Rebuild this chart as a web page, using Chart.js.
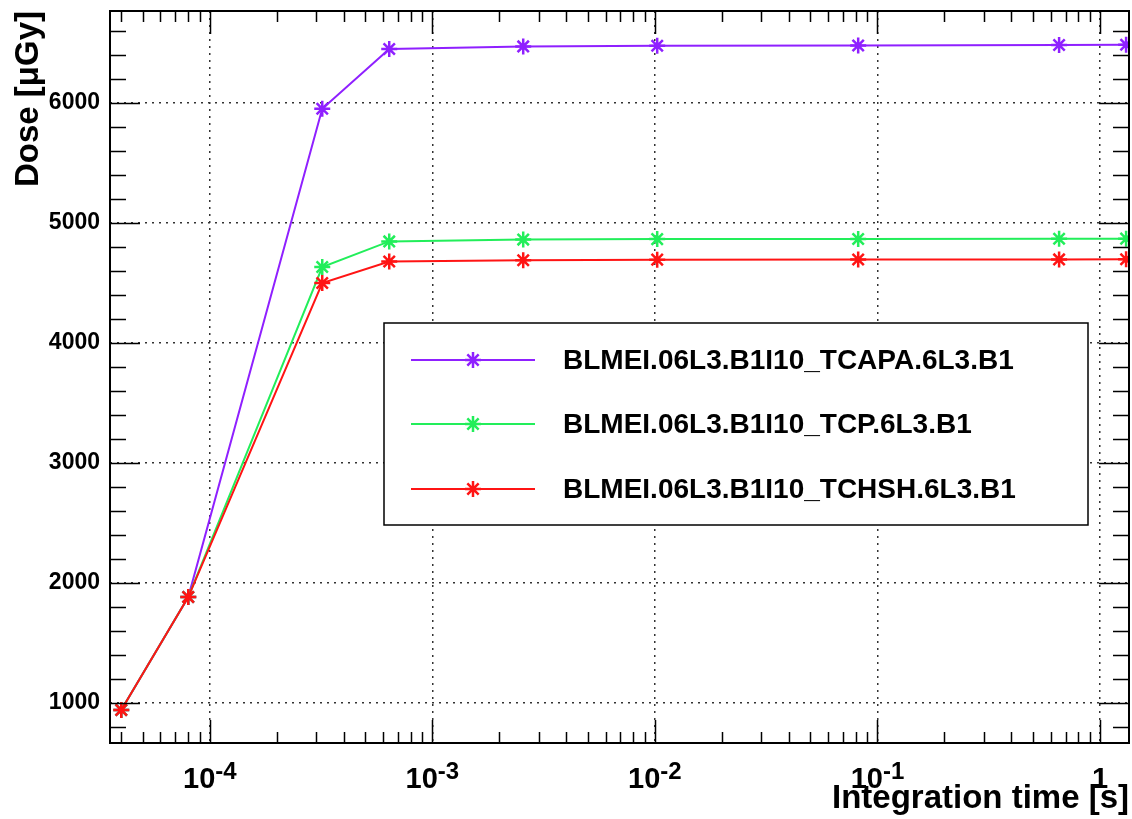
<!DOCTYPE html>
<html>
<head>
<meta charset="utf-8">
<script src="https://cdn.jsdelivr.net/npm/chart.js@4.4.0/dist/chart.umd.min.js"></script>
<style>
    html, body { margin: 0; padding: 0; background: #fff; overflow: hidden; }
    #wrap { width: 1132px; height: 819px; }
</style>
</head>
<body>
<div id="wrap"><canvas id="doseChart"></canvas></div>
<script>
// integration times [s] and dose [uGy]
const integrationTimes = [4e-5, 8e-5, 3.2e-4, 6.4e-4, 2.56e-3, 1.024e-2, 8.192e-2, 0.655, 1.31];
const doseTCAPA = [942, 1883, 5952, 6450, 6472, 6478, 6480, 6484, 6486];
const doseTCP = [942, 1883, 4633, 4847, 4862, 4866, 4867, 4869, 4870];
const doseTCHSH = [942, 1883, 4500, 4680, 4690, 4695, 4696, 4697, 4698];
const seriesNames = [
    'BLMEI.06L3.B1I10_TCAPA.6L3.B1',
    'BLMEI.06L3.B1I10_TCP.6L3.B1',
    'BLMEI.06L3.B1I10_TCHSH.6L3.B1'
];
const yTickLabels = [1000, 2000, 3000, 4000, 5000, 6000];
const xDecades = [-4, -3, -2, -1, 0];

const colours = ['rgb(143, 32, 255)', 'rgb(34, 238, 90)', 'rgb(255, 20, 20)'];
const FONT = '"Liberation Sans", Arial, Helvetica, sans-serif';

function points(values) {
    return integrationTimes.map(function (t, i) {
        return { x: t, y: values[i] };
    });
}

function series(index, values) {
    return {
        label: seriesNames[index],
        data: points(values),
        borderColor: colours[index],
        backgroundColor: colours[index],
        borderWidth: 2,
        pointStyle: 'star',
        pointRadius: 8,
        pointBorderWidth: 2.5,
        pointBorderColor: colours[index],
        tension: 0,
        order: 3 - index // red drawn last, on top
    };
}

function drawStar(ctx, x, y, r) {
    const d = r * Math.SQRT1_2;
    ctx.beginPath();
    ctx.moveTo(x - r, y); ctx.lineTo(x + r, y);
    ctx.moveTo(x, y - r); ctx.lineTo(x, y + r);
    ctx.moveTo(x - d, y - d); ctx.lineTo(x + d, y + d);
    ctx.moveTo(x - d, y + d); ctx.lineTo(x + d, y - d);
    ctx.stroke();
}

function noPadding(scale) {
    scale.paddingTop = 0;
    scale.paddingBottom = 0;
    scale.paddingLeft = 0;
    scale.paddingRight = 0;
}

// ROOT style frame, inner tick marks, exponent labels and the boxed legend
const rootFrame = {
    id: 'rootFrame',
    afterDraw(chart) {
        const ctx = chart.ctx;
        const area = chart.chartArea;
        const xs = chart.scales.x;
        const ys = chart.scales.y;
        ctx.save();
        ctx.strokeStyle = '#000';
        ctx.lineWidth = 1.5;

        // x ticks, bottom and top
        ctx.beginPath();
        xs.ticks.forEach(function (t) {
            const px = Math.round(xs.getPixelForValue(t.value)) + 0.5;
            const len = t.major ? 23 : 11;
            ctx.moveTo(px, area.bottom); ctx.lineTo(px, area.bottom - len);
            ctx.moveTo(px, area.top); ctx.lineTo(px, area.top + len);
        });
        // y ticks every 200, left and right
        for (let v = 800; v <= ys.max; v += 200) {
            const py = Math.round(ys.getPixelForValue(v)) + 0.5;
            const len = v % 1000 === 0 ? 30 : 16;
            ctx.moveTo(area.left, py); ctx.lineTo(area.left + len, py);
            ctx.moveTo(area.right, py); ctx.lineTo(area.right - len, py);
        }
        ctx.stroke();

        ctx.lineWidth = 2;
        ctx.strokeRect(area.left, area.top, area.right - area.left, area.bottom - area.top);

        // x labels 10^n
        ctx.fillStyle = '#000';
        ctx.textBaseline = 'alphabetic';
        xDecades.forEach(function (n) {
            const px = xs.getPixelForValue(Math.pow(10, n));
            ctx.font = 'bold 29px ' + FONT;
            if (n === 0) {
                ctx.textAlign = 'center';
                ctx.fillText('1', px, 788);
                return;
            }
            const base = ctx.measureText('10').width;
            ctx.font = 'bold 24px ' + FONT;
            const expo = String(n);
            const ew = ctx.measureText(expo).width;
            const x0 = px - (base + ew) / 2;
            ctx.textAlign = 'left';
            ctx.font = 'bold 29px ' + FONT;
            ctx.fillText('10', x0, 788);
            ctx.font = 'bold 24px ' + FONT;
            ctx.fillText(expo, x0 + base, 779);
        });

        // legend
        const lx = 384, ly = 323, lw = 704, lh = 202;
        ctx.fillStyle = '#fff';
        ctx.fillRect(lx, ly, lw, lh);
        ctx.lineWidth = 1.5;
        ctx.strokeStyle = '#000';
        ctx.strokeRect(lx, ly, lw, lh);
        const rows = [360, 424, 489];
        chart.data.datasets.forEach(function (ds, i) {
            const y = rows[i];
            ctx.strokeStyle = ds.borderColor;
            ctx.lineWidth = 2;
            ctx.beginPath();
            ctx.moveTo(411, y); ctx.lineTo(535, y);
            ctx.stroke();
            ctx.lineWidth = 2.5;
            drawStar(ctx, 473, y, 8);
            ctx.fillStyle = '#000';
            ctx.font = 'bold 28px ' + FONT;
            ctx.textAlign = 'left';
            ctx.textBaseline = 'middle';
            ctx.fillText(ds.label, 563, y + 1);
        });
        ctx.restore();
    }
};

const ctx = document.getElementById('doseChart');
const doseChart = new Chart(ctx, {
    type: 'line',
    data: {
        datasets: [
            series(0, doseTCAPA),
            series(1, doseTCP),
            series(2, doseTCHSH)
        ]
    },
    options: {
        responsive: true,
        maintainAspectRatio: false,
        animation: false,
        layout: {
            autoPadding: false,
            padding: { top: 11, right: 3, left: 0, bottom: 0 }
        },
        plugins: {
            legend: { display: false },
            tooltip: { enabled: false },
            title: { display: false }
        },
        scales: {
            x: {
                type: 'logarithmic',
                min: 3.56e-5,
                max: 1.35,
                afterBuildTicks: function (scale) {
                    const ticks = [];
                    for (let n = -5; n <= 0; n++) {
                        for (let k = 1; k <= 9; k++) {
                            const v = k * Math.pow(10, n);
                            if (v >= scale.min && v <= scale.max) {
                                ticks.push({ value: v, major: k === 1 });
                            }
                        }
                    }
                    scale.ticks = ticks;
                },
                afterFit: function (scale) {
                    scale.height = 76;
                    noPadding(scale);
                },
                grid: {
                    drawTicks: false,
                    lineWidth: 1.5,
                    color: function (c) {
                        return c.tick && c.tick.major ? '#333' : 'rgba(0,0,0,0)';
                    }
                },
                border: { display: false, dash: [2, 5] },
                ticks: { display: false },
                title: {
                    display: true,
                    text: 'Integration time [s]',
                    align: 'end',
                    color: '#000',
                    font: { family: FONT, size: 33, weight: 'bold' },
                    padding: { top: 0, bottom: 0 }
                }
            },
            y: {
                type: 'linear',
                min: 667,
                max: 6767,
                afterBuildTicks: function (scale) {
                    scale.ticks = yTickLabels.map(function (v) { return { value: v }; });
                },
                afterFit: function (scale) {
                    scale.width = 110;
                    noPadding(scale);
                },
                grid: {
                    drawTicks: false,
                    lineWidth: 1.5,
                    color: '#333'
                },
                border: { display: false, dash: [2, 5] },
                ticks: {
                    padding: 10,
                    color: '#000',
                    font: { family: FONT, size: 23, weight: 'bold' },
                    callback: function (value) {
                        return String(value);
                    }
                },
                title: {
                    display: true,
                    text: 'Dose [μGy]',
                    align: 'end',
                    color: '#000',
                    font: { family: FONT, size: 33, weight: 'bold' },
                    padding: { top: 9, bottom: 0 }
                }
            }
        }
    },
    plugins: [rootFrame]
});
</script>
</body>
</html>
